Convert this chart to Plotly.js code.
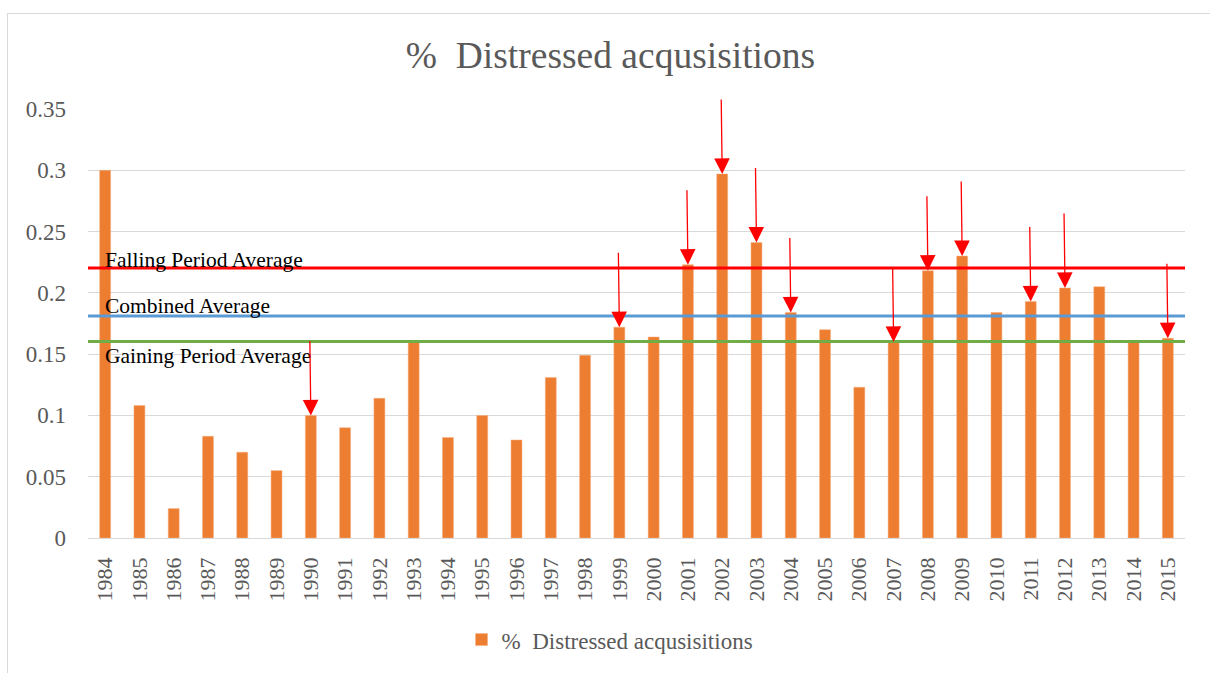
<!DOCTYPE html>
<html>
<head>
<meta charset="utf-8">
<script src="https://cdn.plot.ly/plotly-3.0.1.min.js"></script>
<style>
  html, body { margin: 0; padding: 0; background: #ffffff; }
  #wrap { position: relative; width: 1210px; height: 673px; overflow: hidden; }
  #chart { position: absolute; left: 0; top: 0; width: 1210px; height: 673px; }
  #frame { position: absolute; left: 7px; top: 13px; width: 1220px; height: 700px;
           border-left: 1px solid #d9d9d9; border-top: 1px solid #d9d9d9; pointer-events: none; }
</style>
</head>
<body>
<div id="wrap">
  <div id="chart"></div>
  <div id="frame"></div>
</div>
<script>
// ---- data ----
const years = ['1984','1985','1986','1987','1988','1989','1990','1991','1992','1993','1994','1995','1996','1997','1998','1999','2000','2001','2002','2003','2004','2005','2006','2007','2008','2009','2010','2011','2012','2013','2014','2015'];
const distressedShare = [0.300,0.108,0.024,0.083,0.070,0.055,0.100,0.090,0.114,0.160,0.082,0.100,0.080,0.131,0.149,0.172,0.164,0.223,0.297,0.241,0.184,0.170,0.123,0.160,0.218,0.230,0.184,0.193,0.204,0.205,0.160,0.163];
const fallingPeriodAverage = 0.2202;
const combinedAverage = 0.1811;
const gainingPeriodAverage = 0.1603;
const markedYears = ['1990','1999','2001','2002','2003','2004','2007','2008','2009','2011','2012','2015'];
const seriesName = '%\u00a0 Distressed acqusisitions';
const chartTitle = '%\u00a0 Distressed acqusisitions';
const yTicks = [0, 0.05, 0.1, 0.15, 0.2, 0.25, 0.3, 0.35];

const FONT = '"Liberation Serif", "Times New Roman", "DejaVu Serif", serif';
const GREY = '#595959';

const barTrace = {
  type: 'bar',
  x: years,
  y: distressedShare,
  name: seriesName,
  marker: { color: '#ED7D31', line: { color: '#F4B183', width: 0.5 } },
  hoverinfo: 'x+y',
  showlegend: true
};

const avgLines = [
  { value: fallingPeriodAverage, color: '#FF0000' },
  { value: combinedAverage, color: '#5B9BD5' },
  { value: gainingPeriodAverage, color: '#70AD47' }
];

const shapes = avgLines.map(a => ({
  type: 'line', xref: 'paper', yref: 'y',
  x0: 0, x1: 1, y0: a.value, y1: a.value,
  line: { color: a.color, width: 3 }, layer: 'above'
}));

const labelAnnots = [
  { text: 'Falling Period Average', y: fallingPeriodAverage, yshift: 8 },
  { text: 'Combined Average', y: combinedAverage, yshift: 10 },
  { text: 'Gaining Period Average', y: gainingPeriodAverage, yshift: -14 }
].map(l => ({
  xref: 'x', yref: 'y', x: 0, y: l.y, text: l.text,
  showarrow: false, xanchor: 'left', yanchor: 'middle', xshift: -2, yshift: l.yshift,
  font: { family: FONT, size: 21.5, color: '#000000' }
}));

const arrowAnnots = markedYears.map(yr => ({
  xref: 'x', yref: 'y', x: years.indexOf(yr), y: distressedShare[years.indexOf(yr)],
  text: '', showarrow: true, ax: -1, ay: -76,
  arrowhead: 2, arrowsize: 2.4, arrowwidth: 1.3, arrowcolor: '#FF0000', standoff: 0
}));

const layout = {
  width: 1210, height: 673,
  paper_bgcolor: '#ffffff', plot_bgcolor: '#ffffff',
  margin: { l: 88, r: 25, t: 109, b: 132, pad: 0 },
  title: {
    text: chartTitle,
    x: 0.5045, xref: 'container', xanchor: 'center',
    y: 0.918, yref: 'container', yanchor: 'middle',
    font: { family: FONT, size: 37.5, color: GREY }
  },
  bargap: 0.68,
  xaxis: {
    type: 'category',
    range: [-0.5, years.length - 0.5],
    autorange: false,
    tickangle: -90,
    tickfont: { family: FONT, size: 22, color: GREY },
    ticks: '', showgrid: false, showline: false, zeroline: false,
    ticklabelstandoff: 14,
    fixedrange: true
  },
  yaxis: {
    range: [0, 0.35],
    autorange: false,
    tickvals: yTicks,
    ticktext: yTicks.map(v => String(v)),
    tickfont: { family: FONT, size: 23, color: GREY },
    ticks: '', showline: false,
    gridcolor: '#d9d9d9', gridwidth: 1,
    zeroline: true, zerolinecolor: '#d9d9d9', zerolinewidth: 1,
    ticklabelstandoff: 21,
    fixedrange: true
  },
  showlegend: true,
  legend: {
    orientation: 'h',
    x: 0.3405, xanchor: 'left', xref: 'paper',
    y: -0.237, yanchor: 'middle', yref: 'paper',
    font: { family: FONT, size: 23, color: GREY },
    bgcolor: 'rgba(0,0,0,0)'
  },
  shapes: shapes,
  annotations: labelAnnots.concat(arrowAnnots)
};

Plotly.newPlot('chart', [barTrace], layout, { displayModeBar: false, responsive: false });
</script>
</body>
</html>
